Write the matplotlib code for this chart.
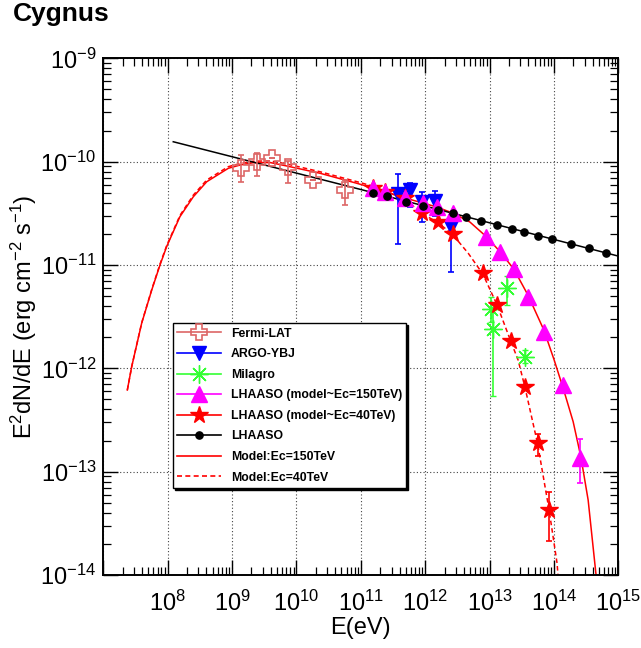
import matplotlib
matplotlib.use("Agg")
import matplotlib.pyplot as plt
from matplotlib.lines import Line2D
from matplotlib.ticker import LogLocator, NullFormatter, FixedLocator
import numpy as np

plt.rcParams['font.family'] = ['Liberation Sans', 'DejaVu Sans']
plt.rcParams['mathtext.fontset'] = 'custom'
plt.rcParams['mathtext.rm'] = 'Liberation Sans'
plt.rcParams['mathtext.it'] = 'Liberation Sans:italic'
plt.rcParams['mathtext.bf'] = 'Liberation Sans:bold'

# --- data ---
fermi_E = [1.36e9, 2.41e9, 4.12e9, 7.46e9, 1.82e10, 5.66e10]
fermi_F = [8.63e-11, 1.00e-10, 1.08e-10, 8.95e-11, 6.65e-11, 5.32e-11]
fermi_hi = [1.16e-10, 1.21e-10, 1.08e-10, 1.02e-10, 6.65e-11, 6.65e-11]
fermi_lo = [6.32e-11, 7.28e-11, 1.08e-10, 6.18e-11, 6.65e-11, 3.81e-11]

argo_E = [3.81e11, 5.89e11, 9.06e11, 1.41e12, 2.51e12]
argo_F = [4.86e-11, 5.32e-11, 4.10e-11, 4.17e-11, 2.33e-11]
argo_hi = [7.55e-11, 6.22e-11, 5.13e-11, 5.24e-11, 3.05e-11]
argo_lo = [1.60e-11, 3.64e-11, 2.61e-11, 2.98e-11, 8.61e-12]

milagro_E = [1.07e13, 1.14e13, 1.84e13, 3.53e13]
milagro_F = [3.72e-12, 2.39e-12, 5.94e-12, 1.29e-12]
milagro_hi = [4.93e-12, 3.66e-12, 7.82e-12, 1.49e-12]
milagro_lo = [2.82e-12, 5.40e-13, 4.10e-12, 1.12e-12]

lh150_E = [1.56e11, 2.37e11, 4.84e11, 9.12e11, 1.50e12, 2.72e12, 8.67e12,
           1.45e13, 2.38e13, 3.97e13, 6.97e13, 1.36e14, 2.52e14]
lh150_F = [5.52e-11, 5.13e-11, 4.43e-11, 4.01e-11, 3.66e-11, 3.16e-11, 1.88e-11,
           1.34e-11, 9.14e-12, 4.93e-12, 2.26e-12, 6.89e-13, 1.36e-13]
lh150_hi = [5.52e-11, 5.13e-11, 4.43e-11, 4.01e-11, 3.66e-11, 3.16e-11, 1.88e-11,
            1.34e-11, 9.14e-12, 4.93e-12, 2.26e-12, 6.89e-13, 2.06e-13]
lh150_lo = [5.52e-11, 5.13e-11, 4.43e-11, 4.01e-11, 3.66e-11, 3.16e-11, 1.88e-11,
            1.34e-11, 9.14e-12, 4.93e-12, 2.26e-12, 6.89e-13, 7.82e-14]

lh40_E = [1.56e11, 2.37e11, 4.84e11, 8.79e11, 1.56e12, 2.69e12, 7.78e12,
          1.31e13, 2.12e13, 3.53e13, 5.62e13, 8.41e13]
lh40_F = [5.52e-11, 5.13e-11, 4.43e-11, 3.16e-11, 2.61e-11, 1.98e-11, 8.32e-12,
          4.10e-12, 1.85e-12, 6.64e-13, 1.88e-13, 4.25e-14]
lh40_hi = [5.52e-11, 5.13e-11, 4.43e-11, 3.16e-11, 2.61e-11, 1.98e-11, 8.32e-12,
           4.10e-12, 1.85e-12, 6.64e-13, 2.31e-13, 6.38e-14]
lh40_lo = [5.52e-11, 5.13e-11, 4.43e-11, 3.16e-11, 2.61e-11, 1.98e-11, 8.32e-12,
           4.10e-12, 1.85e-12, 6.64e-13, 1.43e-13, 2.13e-14]

lhaaso_E = [1.54e11, 2.54e11, 5.01e11, 9.20e11, 1.57e12, 2.69e12, 4.29e12, 7.33e12,
            1.30e13, 2.22e13, 3.41e13, 5.62e13, 9.29e13, 1.83e14, 3.49e14, 6.41e14]
lhaaso_F = [4.98e-11, 4.66e-11, 4.07e-11, 3.72e-11, 3.40e-11, 3.18e-11, 2.91e-11, 2.67e-11,
            2.44e-11, 2.23e-11, 2.08e-11, 1.91e-11, 1.78e-11, 1.60e-11, 1.46e-11, 1.30e-11]
lhaaso_fit_E = [1.22e8, 9.68e10, 1.0e15]
lhaaso_fit_F = [1.56e-10, 5.41e-11, 1.22e-11]

model150_E = [2.36e7, 2.76e7, 3.94e7, 5.65e7, 7.59e7, 9.64e7, 1.55e8, 2.50e8, 4.04e8,
              8.73e8, 1.33e9, 2.11e9, 3.88e9, 7.13e9, 2.32e10, 8.69e10, 1.54e11,
              4.84e11, 1.52e12, 2.69e12, 4.94e12, 8.67e12, 1.45e13, 2.38e13, 3.94e13,
              6.97e13, 1.01e14, 1.39e14, 1.99e14, 2.62e14, 3.40e14, 4.48e14, 4.79e14]
model150_F = [6.17e-13, 1.04e-12, 2.73e-12, 5.73e-12, 1.00e-11, 1.51e-11, 2.94e-11, 4.58e-11,
              6.40e-11, 8.63e-11, 9.29e-11, 9.77e-11, 9.82e-11, 9.08e-11, 7.73e-11, 6.18e-11,
              5.56e-11, 4.46e-11, 3.64e-11, 3.18e-11, 2.61e-11, 1.91e-11, 1.35e-11, 9.14e-12,
              5.13e-12, 2.35e-12, 1.20e-12, 6.44e-13, 3.04e-13, 1.39e-13, 5.31e-14, 1.04e-14,
              7.9e-15]

model40_E = [2.36e7, 2.76e7, 3.94e7, 5.65e7, 7.59e7, 9.64e7, 1.55e8, 2.50e8, 4.04e8,
             8.73e8, 1.33e9, 2.11e9, 3.88e9, 7.13e9, 2.32e10, 8.69e10, 1.54e11,
             4.84e11, 8.79e11, 1.56e12, 2.66e12, 4.66e12, 7.87e12, 1.31e13, 2.12e13,
             2.78e13, 3.53e13, 5.56e13, 8.41e13, 1.12e14, 1.17e14]
model40_F = [6.17e-13, 1.04e-12, 2.75e-12, 5.80e-12, 1.02e-11, 1.54e-11, 3.02e-11, 4.75e-11,
             6.65e-11, 8.95e-11, 9.60e-11, 1.01e-10, 1.02e-10, 9.50e-11, 8.00e-11, 6.41e-11,
             5.80e-11, 4.36e-11, 3.16e-11, 2.59e-11, 1.98e-11, 1.30e-11, 8.18e-12, 4.10e-12,
             1.85e-12, 1.20e-12, 6.64e-13, 1.88e-13, 4.25e-14, 1.29e-14, 9.0e-15]

x_decades = list(range(7, 16))
y_decades = list(range(-14, -8))


def yerr(F, lo, hi):
    F = np.array(F)
    return [F - np.array(lo), np.array(hi) - F]


fig = plt.figure(figsize=(6.41, 6.48), dpi=100)
ax = fig.add_axes([0.1612, 0.1127, 0.8034, 0.7972])
ax.set_xscale('log')
ax.set_yscale('log')
ax.set_xlim(1e7, 1e15)
ax.set_ylim(1e-14, 1e-9)

ax.grid(True, which='major', linestyle=(0, (1, 2)), color='#444444', lw=0.8)

# models
ax.plot(model150_E, model150_F, color='red', lw=1.1, zorder=2)
ax.plot(model40_E, model40_F, color='red', lw=1.1, ls=(0, (3, 2)), zorder=2)
ax.plot(lhaaso_fit_E, lhaaso_fit_F, color='black', lw=1.1, zorder=2)

ekw = dict(ls='none', capsize=2.2, elinewidth=1.2, capthick=1.2)
ax.errorbar(fermi_E, fermi_F, yerr=yerr(fermi_F, fermi_lo, fermi_hi), color='#DD6666',
            marker='P', ms=12, mfc='none', mew=1.2, zorder=3, **ekw)
ax.errorbar(argo_E, argo_F, yerr=yerr(argo_F, argo_lo, argo_hi), color='blue',
            marker='v', ms=10, zorder=3, **ekw)
ax.errorbar(milagro_E, milagro_F, yerr=yerr(milagro_F, milagro_lo, milagro_hi), color='#33FF33',
            marker=(8, 2, 0), ms=13, mew=1.0, zorder=3, **ekw)
ax.errorbar(lh40_E, lh40_F, yerr=yerr(lh40_F, lh40_lo, lh40_hi), color='red',
            marker='*', ms=13, zorder=4, **ekw)
ax.errorbar(lh150_E, lh150_F, yerr=yerr(lh150_F, lh150_lo, lh150_hi), color='magenta',
            marker='^', ms=11, zorder=5, **ekw)
ax.plot(lhaaso_E, lhaaso_F, 'o', color='black', ms=5.2, zorder=6)

# axes style
for sp in ax.spines.values():
    sp.set_linewidth(1.4)
ax.set_xticks([10.0 ** k for k in x_decades],
              [''] + ['$\\mathregular{10^{%d}}$' % k for k in x_decades[1:]])
ax.set_yticks([10.0 ** k for k in y_decades],
              ['$\\mathregular{10^{%d}}$' % k for k in y_decades])
ax.xaxis.set_minor_locator(LogLocator(base=10, subs=np.arange(2, 10), numticks=20))
ax.yaxis.set_minor_locator(LogLocator(base=10, subs=np.arange(2, 10), numticks=20))
ax.xaxis.set_minor_formatter(NullFormatter())
ax.yaxis.set_minor_formatter(NullFormatter())
ax.tick_params(which='both', direction='in', top=True, right=True, labelsize=17)
ax.tick_params(which='major', length=11, width=1.0)
ax.tick_params(which='minor', length=5.5, width=0.9)
ax.tick_params(axis='x', which='major', pad=11)
ax.tick_params(axis='y', which='major', pad=5)

ax.set_xlabel('E(eV)', fontsize=17, labelpad=1)
ax.set_ylabel('E$^{2}$dN/dE (erg cm$^{-2}$ s$^{-1}$)', fontsize=17, labelpad=1)

fig.text(0.02, 1 - 21 / 648, 'Cygnus', fontsize=19, fontweight='bold', va='baseline')

# legend
handles = [
    Line2D([], [], color='#DD6666', marker='P', ms=12, mfc='none', mew=1.2, lw=1.2),
    Line2D([], [], color='blue', marker='v', ms=10, lw=1.2),
    Line2D([], [], color='#33FF33', marker=(8, 2, 0), ms=13, mew=1.0, lw=1.2),
    Line2D([], [], color='magenta', marker='^', ms=11, lw=1.2),
    Line2D([], [], color='red', marker='*', ms=13, lw=1.2),
    Line2D([], [], color='black', marker='o', ms=5.2, lw=1.2),
    Line2D([], [], color='red', lw=1.2),
    Line2D([], [], color='red', lw=1.2, ls=(0, (3, 2))),
]
labels = ['Fermi-LAT', 'ARGO-YBJ', 'Milagro', 'LHAASO (model~Ec=150TeV)',
          'LHAASO (model~Ec=40TeV)', 'LHAASO', 'Model:Ec=150TeV', 'Model:Ec=40TeV']
leg = ax.legend(handles, labels, loc='upper left', bbox_to_anchor=(0.135, 0.487),
                prop={'weight': 'bold', 'size': 8.8}, frameon=True, fancybox=False,
                edgecolor='black', framealpha=1, borderaxespad=0, borderpad=0.35,
                labelspacing=0.7, handlelength=3.6, handletextpad=0.8,
                shadow={'color': 'black', 'alpha': 1, 'ox': 1.2, 'oy': -1.2})
leg.get_frame().set_linewidth(1.0)
leg.set_zorder(10)

fig.savefig('out.png', dpi=100)
